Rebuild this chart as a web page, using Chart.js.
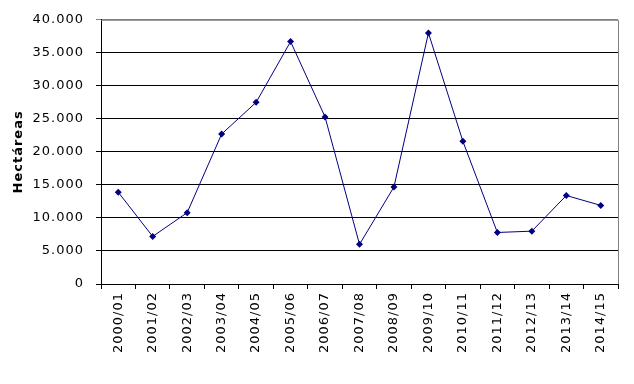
<!doctype html>
<html>

<head>
	<meta charset="utf-8">
	<title>Hectáreas</title>
	<script src="https://cdn.jsdelivr.net/npm/chart.js@4/dist/chart.umd.min.js"></script>
	<style>
		body {
			margin: 0;
			background: #fff;
		}
	</style>
</head>

<body>
	<canvas id="canvas" width="634" height="384"></canvas>
	<script>
		var SEASONS = ['2000/01', '2001/02', '2002/03', '2003/04', '2004/05', '2005/06', '2006/07', '2007/08',
			'2008/09', '2009/10', '2010/11', '2011/12', '2012/13', '2013/14', '2014/15'];
		var HECTARES = [13900, 7200, 10800, 22700, 27500, 36700, 25300, 6000, 14700, 38000, 21600, 7800, 8000, 13400, 11900];
		var Y_TITLE = 'Hectáreas';

		var FONT = 'Verdana, "DejaVu Sans", sans-serif';

		// the original text is a little wider than DejaVu, so space the letters a bit
		var spacing = {
			id: 'spacing',
			beforeUpdate: function(chart) {
				chart.ctx.letterSpacing = '1px';
			},
			beforeDraw: function(chart) {
				chart.ctx.letterSpacing = '1px';
			}
		};

		// grey frame on the top and right of the plot area, like the original
		var plotFrame = {
			id: 'plotFrame',
			afterDraw: function(chart) {
				var a = chart.chartArea;
				var ctx = chart.ctx;
				ctx.save();
				ctx.strokeStyle = '#808080';
				ctx.lineWidth = 1;
				ctx.beginPath();
				ctx.moveTo(a.left, a.top + 0.5);
				ctx.lineTo(a.right + 0.5, a.top + 0.5);
				ctx.lineTo(a.right + 0.5, a.bottom);
				ctx.stroke();
				ctx.restore();
			}
		};

		var config = {
			type: 'line',
			data: {
				labels: SEASONS,
				datasets: [{
					label: Y_TITLE,
					data: HECTARES,
					borderColor: '#000080',
					backgroundColor: '#000080',
					borderWidth: 1,
					pointStyle: 'rectRot',
					pointRadius: 3.5,
					pointBorderWidth: 0,
					tension: 0,
					fill: false
				}]
			},
			options: {
				responsive: false,
				animation: false,
				layout: {
					padding: {top: 17, right: 16, left: 11, bottom: 0}
				},
				plugins: {
					legend: {display: false},
					tooltip: {enabled: false}
				},
				scales: {
					x: {
						offset: true,
						grid: {
							offset: true,
							drawOnChartArea: false,
							color: '#000',
							tickLength: 5
						},
						border: {color: '#000'},
						ticks: {
							color: '#000',
							font: {family: FONT, size: 13},
							minRotation: 90,
							maxRotation: 90,
							autoSkip: false,
							padding: 3
						},
						afterFit: function(scale) {
							scale.height = 100;
						}
					},
					y: {
						min: 0,
						max: 40000,
						ticks: {
							stepSize: 5000,
							color: '#000',
							font: {family: FONT, size: 13},
							padding: 12,
							callback: function(v) {
								return v.toString().replace(/\B(?=(\d{3})+(?!\d))/g, '.');
							}
						},
						grid: {
							color: function(ctx) {
								return ctx.tick && ctx.tick.value === 40000 ? '#808080' : '#000';
							},
							tickLength: 5
						},
						border: {color: '#000'},
						title: {
							display: true,
							text: Y_TITLE,
							color: '#000',
							font: {family: FONT, size: 13, weight: 'bold'},
							padding: {top: 0, bottom: 6}
						},
						afterFit: function(scale) {
							scale.width = 90;
						}
					}
				}
			},
			plugins: [spacing, plotFrame]
		};

		window.onload = function() {
			window.myLine = new Chart('canvas', config);
		};
	</script>
</body>

</html>
